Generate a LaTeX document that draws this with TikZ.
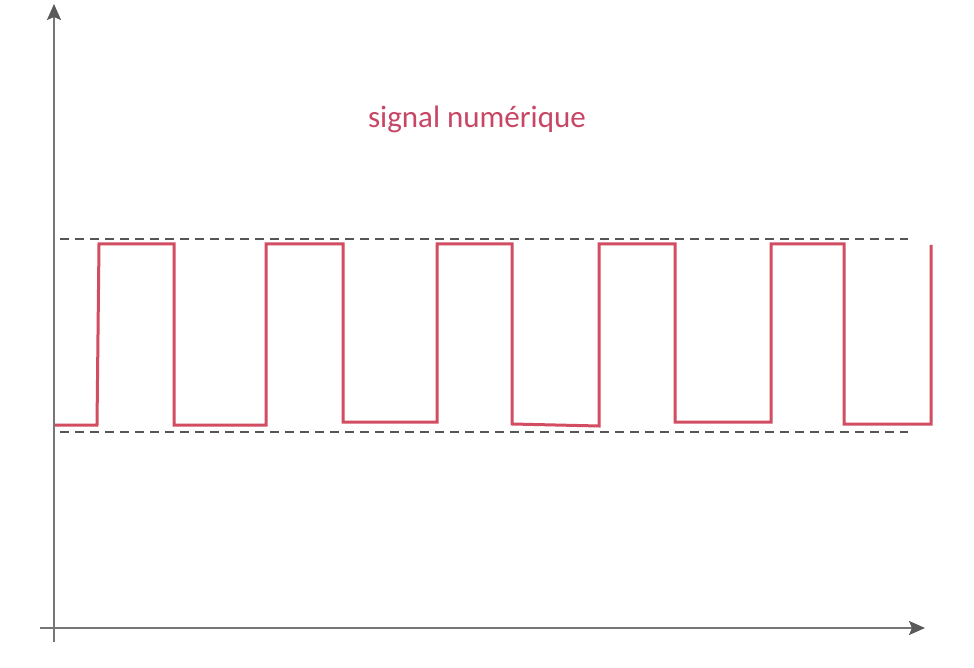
\documentclass[tikz,border=0pt]{standalone}
\usepackage{fontspec}
\setmainfont{Carlito}
\usetikzlibrary{arrows.meta}
\definecolor{sigred}{RGB}{210,76,98}
\definecolor{txtred}{RGB}{200,70,100}
\definecolor{axgray}{RGB}{118,118,118}
\definecolor{headgray}{RGB}{90,90,90}
\definecolor{dashgray}{RGB}{85,85,85}
\tikzset{
  axis/.style={draw=axgray, line width=2pt, -{Stealth[length=16pt,width=14pt,inset=3pt,color=headgray]}},
  guide/.style={draw=dashgray, line width=1.2pt, dash pattern=on 9pt off 6pt},
  sig/.style={draw=sigred, line width=3pt, line join=miter},
  title/.style={text=txtred, font=\fontsize{31}{36}\selectfont, inner sep=0pt}
}
\begin{document}
\begin{tikzpicture}[x=1pt, y=-1pt]
\useasboundingbox (0,0) rectangle (974,668);
\fill[white] (0,0) rectangle (974,668);
% axes
\coordinate (ybot) at (54,642);
\coordinate (ytop) at (54,4);
\coordinate (xleft) at (40,628);
\coordinate (xright) at (925,628);
\draw[axis] (ybot) -- (ytop);
\draw[axis] (xleft) -- (xright);
% guide lines
\coordinate (hiA) at (60,239);
\coordinate (hiB) at (908,239);
\coordinate (loA) at (60,432);
\coordinate (loB) at (908,432);
\draw[guide] (hiA) -- (hiB);
\draw[guide] (loA) -- (loB);
% signal
\draw[sig] (55,425) -- (97,425) -- (99,244) -- (174,244) -- (174,425) -- (266,425) -- (266,244)
  -- (343,244) -- (343,422) -- (437,422) -- (437,244) -- (512,244) -- (512,424) -- (599,426)
  -- (599,244) -- (675,244) -- (675,422) -- (771,422) -- (771,244) -- (844,244) -- (844,424)
  -- (931,424) -- (931,245);
% title
\node[title] (t) at (477,119) {signal numérique};
\end{tikzpicture}
\end{document}
